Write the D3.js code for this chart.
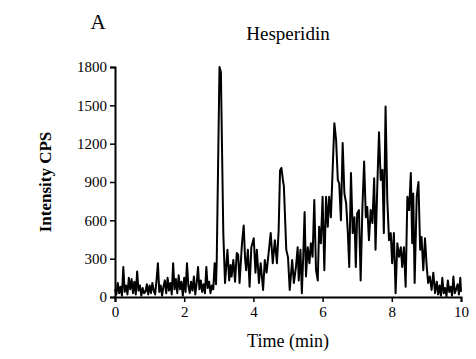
<!DOCTYPE html>
<html>
<head>
<meta charset="utf-8">
<script src="https://cdn.jsdelivr.net/npm/d3@7"></script>
<style>
  html, body { margin: 0; padding: 0; background: #fff; }
  svg { display: block; }
  text { font-family: "Times New Roman", "Liberation Serif", "DejaVu Serif", serif; fill: #000; }
</style>
</head>
<body>
<script>
// ---- data ----
const panelLabel = "A";
const chartTitle = "Hesperidin";
const xTitle = "Time (min)";
const yTitle = "Intensity CPS";
const xTicks = [0, 2, 4, 6, 8, 10];
const yTicks = [0, 300, 600, 900, 1200, 1500, 1800];

const timeMin = [
  0.00,0.04,0.08,0.12,0.16,0.20,0.24,0.28,0.32,0.36,0.40,0.44,0.48,0.52,0.56,0.60,0.64,0.68,0.72,0.76,
  0.80,0.84,0.88,0.92,0.96,1.00,1.04,1.08,1.12,1.16,1.20,1.24,1.28,1.32,1.36,1.40,1.44,1.48,1.52,1.56,
  1.60,1.64,1.68,1.72,1.76,1.80,1.84,1.88,1.92,1.96,2.00,2.04,2.08,2.12,2.16,2.20,2.24,2.28,2.32,2.36,
  2.40,2.44,2.48,2.52,2.56,2.60,2.64,2.68,2.72,2.76,2.80,2.84,2.88,2.92,2.94,3.02,3.06,3.13,3.18,3.25,
  3.30,3.34,3.37,3.42,3.47,3.52,3.56,3.60,3.67,3.72,3.76,3.79,3.84,3.89,3.94,4.01,4.06,4.10,4.16,4.21,
  4.28,4.33,4.38,4.45,4.50,4.56,4.62,4.68,4.73,4.77,4.81,4.86,4.88,4.95,5.00,5.05,5.12,5.17,5.23,5.28,
  5.31,5.36,5.40,5.44,5.48,5.52,5.57,5.62,5.66,5.71,5.76,5.81,5.86,5.90,5.95,6.00,6.05,6.10,6.15,6.19,
  6.24,6.29,6.34,6.39,6.44,6.48,6.53,6.58,6.63,6.68,6.73,6.77,6.82,6.87,6.92,6.96,7.00,7.05,7.10,7.15,
  7.20,7.25,7.29,7.34,7.39,7.44,7.49,7.53,7.58,7.63,7.68,7.73,7.77,7.82,7.87,7.92,7.97,8.01,8.06,8.11,
  8.16,8.21,8.26,8.30,8.35,8.40,8.45,8.50,8.55,8.59,8.62,8.66,8.72,8.77,8.82,8.86,8.91,8.96,9.01,9.05,
  9.10,9.15,9.20,9.25,9.30,9.34,9.38,9.42,9.46,9.50,9.54,9.58,9.62,9.66,9.70,9.74,9.78,9.82,9.86,9.90,
  9.94,9.98,10.00
];
const intensityCPS = [
  60,20,110,30,80,10,235,40,90,20,150,60,140,30,120,20,200,50,90,10,
  70,30,40,100,20,90,30,110,50,20,130,265,40,90,10,80,130,30,150,50,
  110,20,265,60,140,30,170,60,120,10,150,40,265,90,30,120,50,160,20,110,
  235,60,130,40,100,30,235,70,120,30,90,60,265,100,280,1800,1760,500,110,370,
  130,250,160,290,120,345,330,110,420,560,300,210,370,80,390,460,190,370,110,265,
  55,290,190,370,500,265,445,265,525,990,1010,900,870,370,310,55,290,110,235,390,
  130,370,30,315,665,160,390,265,420,315,760,210,130,550,420,785,210,785,550,785,
  625,995,1360,1230,915,890,600,1205,810,735,500,235,970,500,625,235,655,680,130,695,
  1060,625,705,445,680,580,930,370,860,1290,915,995,500,1490,760,445,500,265,500,30,
  420,315,390,235,390,80,785,680,970,420,810,110,785,900,370,470,210,460,235,110,
  160,55,190,30,120,20,90,10,150,30,70,5,130,40,80,10,160,30,60,100,
  20,150,40
];

// ---- layout ----
const W = 476, H = 359;
const m = { left: 115, right: 15, top: 67, bottom: 62 };
const serif = '"Times New Roman", "Liberation Serif", "DejaVu Serif", serif';

const svg = d3.select("body").append("svg")
  .attr("width", W).attr("height", H);

const x = d3.scaleLinear().domain([0, 10]).range([m.left, W - m.right]);
const y = d3.scaleLinear().domain([0, 1800]).range([H - m.bottom, m.top]);

const pts = timeMin.map((t, i) => [t, intensityCPS[i]]);

svg.append("path")
  .datum(pts)
  .attr("fill", "none")
  .attr("stroke", "#000")
  .attr("stroke-width", 2)
  .attr("stroke-linejoin", "round")
  .attr("d", d3.line().x(d => x(d[0])).y(d => y(d[1])));

const xAxis = svg.append("g")
  .attr("transform", `translate(0,${H - m.bottom})`)
  .call(d3.axisBottom(x).tickValues(xTicks).tickSize(5).tickPadding(4).tickFormat(d3.format("d")));
const yAxis = svg.append("g")
  .attr("transform", `translate(${m.left},0)`)
  .call(d3.axisLeft(y).tickValues(yTicks).tickSize(5).tickPadding(3).tickFormat(d3.format("d")));

[xAxis, yAxis].forEach(g => {
  g.attr("font-family", serif);
  g.select(".domain").attr("stroke", "#000").attr("stroke-width", 2);
  g.selectAll(".tick line").attr("stroke", "#000").attr("stroke-width", 1.5);
  g.selectAll(".tick text")
    .attr("font-family", serif)
    .style("font-family", serif)
    .style("font-size", "15px")
    .attr("fill", "#000");
});

svg.append("text")
  .attr("x", (m.left + W - m.right) / 2).attr("y", 347)
  .attr("text-anchor", "middle")
  .style("font-size", "18px")
  .text(xTitle);

svg.append("text")
  .attr("transform", `translate(51,${(m.top + H - m.bottom) / 2}) rotate(-90)`)
  .attr("text-anchor", "middle")
  .style("font-size", "17px")
  .style("font-weight", "bold")
  .text(yTitle);

svg.append("text")
  .attr("x", 288).attr("y", 40)
  .attr("text-anchor", "middle")
  .style("font-size", "19px")
  .text(chartTitle);

svg.append("text")
  .attr("x", 98).attr("y", 29)
  .attr("text-anchor", "middle")
  .style("font-size", "21px")
  .text(panelLabel);
</script>
</body>
</html>
